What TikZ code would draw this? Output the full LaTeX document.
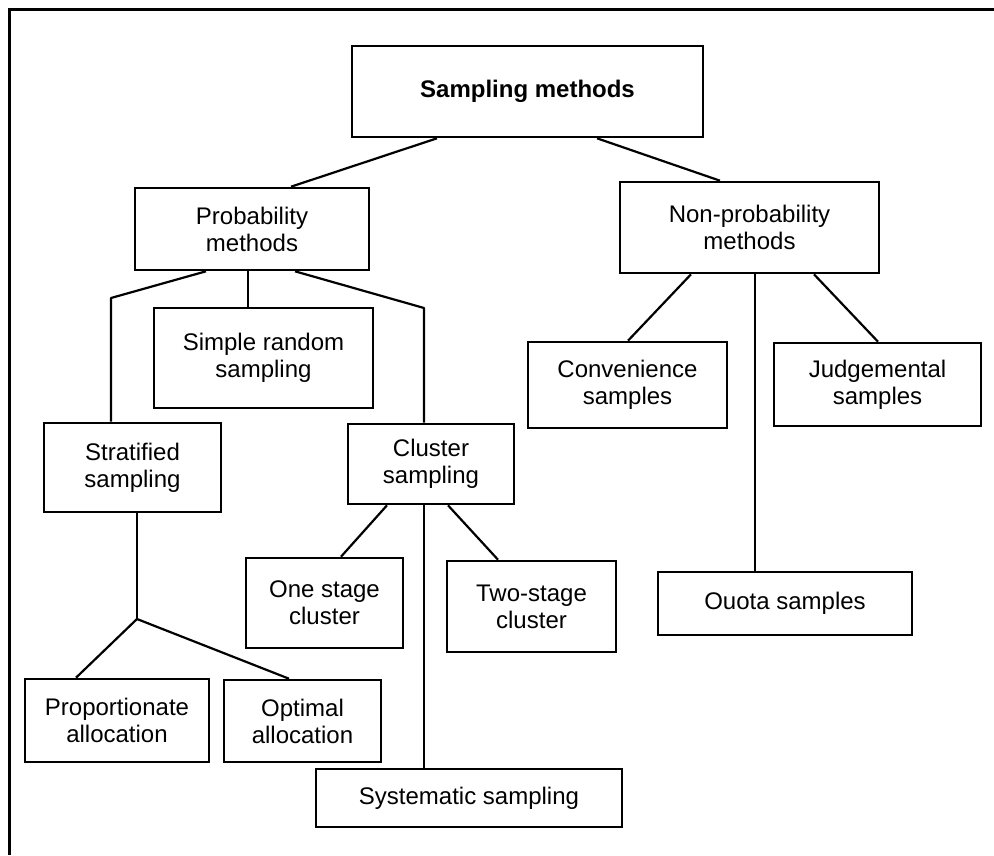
\documentclass[tikz,border=0pt]{standalone}
\usepackage{fontspec}
\setmainfont{Liberation Sans}
\begin{document}
\begin{tikzpicture}[x=1pt,y=-1pt,
  boxnode/.style={draw=black,line width=2.6pt,inner sep=0pt,align=center,
    font=\fontsize{24}{27}\selectfont},
  conn/.style={draw=black,line width=2.2pt,line join=round},
  frameline/.style={draw=black,line width=3pt}]
\useasboundingbox (0,0) rectangle (994,855);
\draw[frameline] (9,855) -- (9,9) -- (994,9);
% boxes
\node[boxnode,minimum width=351pt,minimum height=91pt,font=\fontsize{24}{27}\selectfont\bfseries] (top) at (527.5,91.5) {Sampling methods};
\node[boxnode,minimum width=234pt,minimum height=82pt] (prob) at (252,229) {Probability\\methods};
\node[boxnode,minimum width=259pt,minimum height=91pt] (nonprob) at (749.5,227.5) {Non-probability\\methods};
\node[boxnode,minimum width=219pt,minimum height=100pt] (simple) at (263.5,358) {Simple random\\sampling};
\node[boxnode,minimum width=177pt,minimum height=89pt] (strat) at (132.5,467.5) {Stratified\\sampling};
\node[boxnode,minimum width=166pt,minimum height=80pt] (cluster) at (431,464) {Cluster\\sampling};
\node[boxnode,minimum width=199pt,minimum height=86pt] (conv) at (627.5,385) {Convenience\\samples};
\node[boxnode,minimum width=207pt,minimum height=83pt] (judg) at (877.5,384.5) {Judgemental\\samples};
\node[boxnode,minimum width=157pt,minimum height=90pt] (one) at (324.5,603) {One stage\\cluster};
\node[boxnode,minimum width=169pt,minimum height=91pt] (two) at (531.5,606.5) {Two-stage\\cluster};
\node[boxnode,minimum width=254pt,minimum height=63pt] (quota) at (785,603.5) {Ouota samples};
\node[boxnode,minimum width=184pt,minimum height=83pt] (prop) at (117,720.5) {Proportionate\\allocation};
\node[boxnode,minimum width=157pt,minimum height=82pt] (opt) at (302.5,721) {Optimal\\allocation};
\node[boxnode,minimum width=306pt,minimum height=58pt] (sys) at (469,798) {Systematic sampling};
% helper coordinates
\coordinate (bendL) at (111,298);
\coordinate (bendR) at (424,308);
\coordinate (fork) at (137,619);
% connectors
\draw[conn] ([xshift=-90.5pt]top.south) -- ([xshift=39pt]prob.north);
\draw[conn] ([xshift=69.5pt]top.south) -- ([xshift=-29.5pt]nonprob.north);
\draw[conn] ([xshift=-46pt]prob.south) -- (bendL) -- (bendL |- strat.north);
\draw[conn] ([xshift=-4pt]prob.south) -- ([xshift=-4pt]prob.south |- simple.north);
\draw[conn] ([xshift=43pt]prob.south) -- (bendR) -- (bendR |- cluster.north);
\draw[conn] ([xshift=-58.5pt]nonprob.south) -- ([xshift=0.5pt]conv.north);
\draw[conn] ([xshift=64.5pt]nonprob.south) -- ([xshift=0.5pt]judg.north);
\draw[conn] ([xshift=5.5pt]nonprob.south) -- ([xshift=5.5pt]nonprob.south |- quota.north);
\draw[conn] ([xshift=-44pt]cluster.south) -- ([xshift=16.5pt]one.north);
\draw[conn] ([xshift=17pt]cluster.south) -- ([xshift=-33.5pt]two.north);
\draw[conn] ([xshift=-7pt]cluster.south) -- ([xshift=-7pt]cluster.south |- sys.north);
\draw[conn] (fork |- strat.south) -- (fork);
\draw[conn] (fork) -- ([xshift=-41pt]prop.north);
\draw[conn] (fork) -- ([xshift=-13.5pt]opt.north);
\end{tikzpicture}
\end{document}
